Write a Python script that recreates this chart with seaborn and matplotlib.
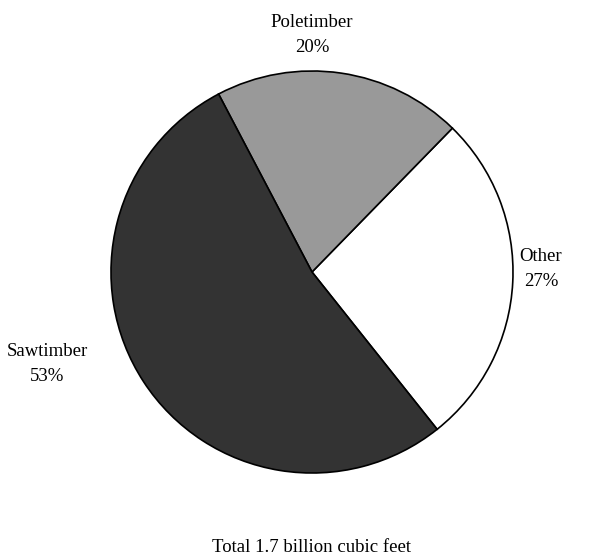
import matplotlib
matplotlib.use("Agg")
import matplotlib.pyplot as plt
import seaborn as sns

categories = ["Other", "Poletimber", "Sawtimber"]
values = [27, 20, 53]
colors = ["#ffffff", "#999999", "#333333"]
title = "Total 1.7 billion cubic feet"

sns.set_theme(style="white")
plt.rcParams['font.family'] = ['Liberation Serif', 'DejaVu Serif']

fig = plt.figure(figsize=(5.9, 5.58), dpi=100)
ax = fig.add_axes([0, 0, 1, 1])
ax.set_xlim(0, 590)
ax.set_ylim(0, 558)
ax.set_aspect('equal')
ax.axis('off')

cx, cy, r = 312, 558 - 272, 201
ax.pie(values, colors=colors, startangle=-51.5, counterclock=True,
       center=(cx, cy), radius=r,
       wedgeprops=dict(edgecolor='black', linewidth=1.2))
ax.set_xlim(0, 590)
ax.set_ylim(0, 558)

label_pos = {"Poletimber": (312, 558 - 35), "Other": (541, 558 - 269), "Sawtimber": (47, 558 - 364)}
for c, v in zip(categories, values):
    x, y = label_pos[c]
    ax.text(x, y, f"{c}\n{v}%", ha='center', va='center', fontsize=13.5,
            linespacing=1.6, color='black')

ax.text(312, 558 - 547, title, ha='center', va='center', fontsize=13.5, color='black')

fig.savefig("out.png", dpi=100, facecolor='white')
